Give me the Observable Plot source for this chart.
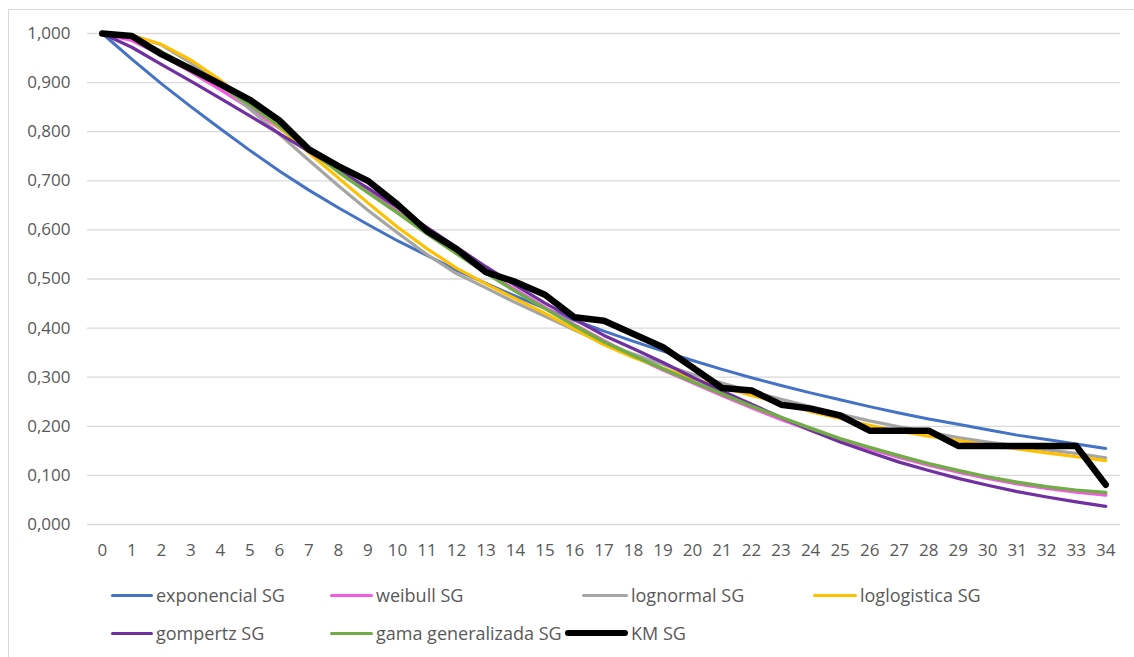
<!DOCTYPE html>
<html>
<head>
<meta charset="utf-8">
<script src="https://cdn.jsdelivr.net/npm/d3@7"></script>
<script src="https://cdn.jsdelivr.net/npm/@observablehq/plot@0.6"></script>
<style>
  html, body { margin: 0; padding: 0; background: #fff; }
  #wrap { position: relative; width: 1134px; height: 657px; overflow: hidden; background: #fff; font-family: "Open Sans", sans-serif; }
  #border { position: absolute; left: 8px; top: 9px; width: 1200px; height: 700px; border-left: 1.5px solid #d9d9d9; border-top: 1.5px solid #d9d9d9; box-sizing: border-box; }
  #chart { position: absolute; left: 0; top: 0; }
  .leg { position: absolute; display: flex; align-items: center; font-size: 18px; color: #595959; white-space: nowrap; }
  .leg .key { display: inline-block; border-radius: 3px; margin-right: 3px; }
</style>
</head>
<body>
<div id="wrap">
  <div id="border"></div>
  <div id="chart"></div>
  <div id="legend"></div>
</div>
<script>
const times = [0,1,2,3,4,5,6,7,8,9,10,11,12,13,14,15,16,17,18,19,20,21,22,23,24,25,26,27,28,29,30,31,32,33,34];

const exponencial = [1.000,0.948,0.898,0.851,0.806,0.762,0.720,0.681,0.645,0.611,0.578,0.548,0.518,0.491,0.465,0.440,0.416,0.394,0.373,0.353,0.334,0.316,0.299,0.283,0.268,0.254,0.240,0.227,0.215,0.204,0.193,0.182,0.173,0.164,0.155];
const weibull = [1.000,0.986,0.957,0.922,0.886,0.848,0.808,0.765,0.722,0.680,0.637,0.595,0.555,0.515,0.478,0.442,0.407,0.374,0.343,0.315,0.289,0.263,0.238,0.214,0.192,0.172,0.154,0.137,0.121,0.107,0.094,0.083,0.074,0.066,0.060];
const lognormal = [1.000,0.997,0.977,0.940,0.897,0.846,0.795,0.742,0.690,0.640,0.594,0.550,0.511,0.482,0.452,0.424,0.396,0.370,0.347,0.326,0.306,0.288,0.271,0.255,0.240,0.225,0.211,0.199,0.188,0.177,0.168,0.160,0.152,0.145,0.136];
const loglogistica = [1.000,0.996,0.978,0.946,0.905,0.858,0.809,0.757,0.706,0.655,0.606,0.562,0.522,0.490,0.460,0.430,0.398,0.366,0.340,0.318,0.298,0.280,0.263,0.247,0.230,0.216,0.202,0.190,0.180,0.171,0.162,0.154,0.146,0.138,0.130];
const gompertz = [1.000,0.972,0.937,0.903,0.868,0.832,0.796,0.760,0.722,0.685,0.646,0.605,0.565,0.525,0.487,0.451,0.418,0.385,0.358,0.330,0.300,0.272,0.245,0.218,0.192,0.168,0.147,0.127,0.110,0.094,0.080,0.067,0.056,0.046,0.037];
const gamaGeneralizada = [1.000,0.993,0.963,0.930,0.894,0.855,0.812,0.764,0.718,0.676,0.635,0.592,0.552,0.512,0.475,0.440,0.405,0.372,0.344,0.317,0.291,0.266,0.241,0.218,0.196,0.175,0.157,0.140,0.124,0.110,0.097,0.086,0.077,0.070,0.065];
const km = [1.000,0.995,0.958,0.928,0.897,0.865,0.823,0.764,0.730,0.700,0.652,0.598,0.561,0.514,0.494,0.468,0.422,0.415,0.388,0.361,0.320,0.278,0.273,0.244,0.236,0.222,0.191,0.191,0.191,0.160,0.160,0.160,0.160,0.160,0.081];

const seriesNames = ["exponencial SG","weibull SG","lognormal SG","loglogistica SG","gompertz SG","gama generalizada SG","KM SG"];
const seriesValues = [exponencial, weibull, lognormal, loglogistica, gompertz, gamaGeneralizada, km];
const seriesColors = ["#4472C4","#F65AE2","#A5A5A5","#FFC000","#7030A0","#70AD47","#000000"];
const seriesWidths = [3,3.5,3.2,3.2,3.2,3.5,6.5];

const yTicks = [0,0.1,0.2,0.3,0.4,0.5,0.6,0.7,0.8,0.9,1.0];
const yTickLabels = ["0,000","0,100","0,200","0,300","0,400","0,500","0,600","0,700","0,800","0,900","1,000"];

const marks = [
  Plot.ruleY(yTicks, {stroke: "#d9d9d9", strokeWidth: 1.3}),
  Plot.axisY({ticks: yTicks, tickFormat: (d) => yTickLabels[yTicks.indexOf(d)], tickSize: 0, tickPadding: 17, fontSize: 17, label: null}),
  Plot.axisX({tickSize: 0, tickPadding: 19, fontSize: 17, label: null})
];
seriesNames.forEach((name, i) => {
  const rows = times.map((t, j) => ({t, v: seriesValues[i][j]}));
  marks.push(Plot.line(rows, {x: "t", y: "v", stroke: seriesColors[i], strokeWidth: seriesWidths[i], strokeLinejoin: "round", strokeLinecap: "round"}));
});

const chart = Plot.plot({
  width: 1134,
  height: 574,
  marginLeft: 87,
  marginRight: 14,
  marginTop: 33,
  marginBottom: 50,
  style: {fontFamily: "'Open Sans', sans-serif", color: "#595959", background: "transparent", overflow: "visible"},
  x: {type: "point", domain: times, padding: 0.5, round: false, label: null},
  y: {domain: [0, 1], label: null},
  marks
});
document.getElementById("chart").appendChild(chart);

// Legend
const legendPos = [
  {left: 111, top: 583, len: 42},
  {left: 330, top: 583, len: 43},
  {left: 582, top: 583, len: 46},
  {left: 813, top: 583, len: 44},
  {left: 111, top: 621, len: 42},
  {left: 330, top: 621, len: 43},
  {left: 565, top: 621, len: 63}
];
const legend = document.getElementById("legend");
seriesNames.forEach((name, i) => {
  const item = document.createElement("div");
  item.className = "leg";
  item.style.left = legendPos[i].left + "px";
  item.style.top = legendPos[i].top + "px";
  item.style.height = "24px";
  const key = document.createElement("span");
  key.className = "key";
  key.style.width = legendPos[i].len + "px";
  key.style.height = Math.round(seriesWidths[i] * 0.9) + "px";
  key.style.background = seriesColors[i];
  const label = document.createElement("span");
  label.textContent = name;
  item.appendChild(key);
  item.appendChild(label);
  legend.appendChild(item);
});
</script>
</body>
</html>
